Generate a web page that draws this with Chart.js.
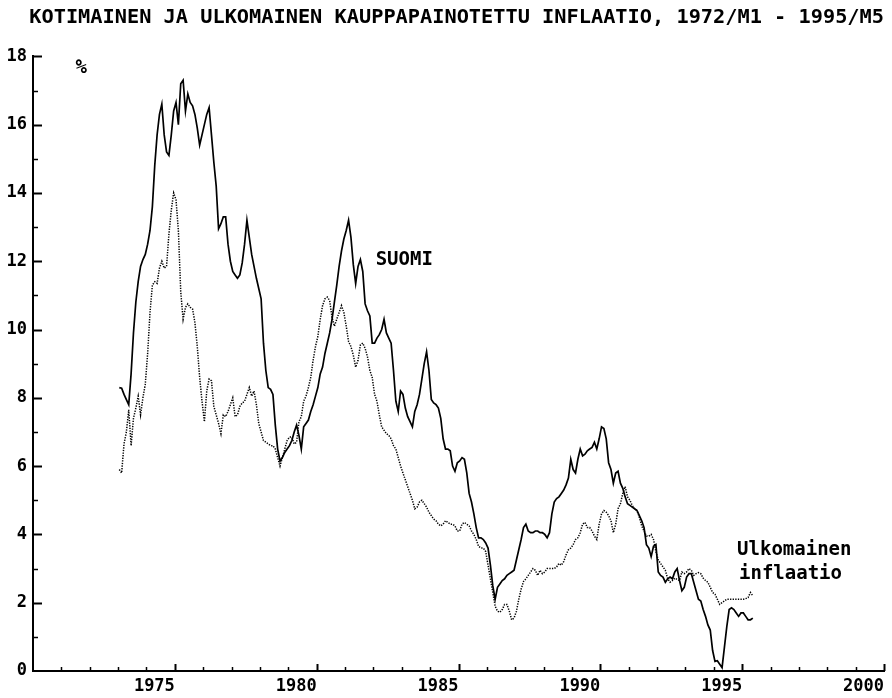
<!DOCTYPE html>
<html>
<head>
<meta charset="utf-8">
<script src="https://cdn.jsdelivr.net/npm/chart.js@4"></script>
<style>
  html, body { margin: 0; padding: 0; background: #fff; }
  #wrap { width: 892px; height: 698px; position: relative; }
</style>
</head>
<body>
<div id="wrap"><canvas id="c"></canvas></div>
<script>
// ---- data (monthly, 1973/M1 ... 1995/M5), year-on-year inflation, % ----
const titleText = 'KOTIMAINEN JA ULKOMAINEN KAUPPAPAINOTETTU INFLAATIO, 1972/M1 - 1995/M5';
const startYear = 1973;
const startMonth = 1;

const suomi = [
  8.3, 8.28, 8.1, 7.95, 7.8, 8.7, 9.9, 10.8, 11.4, 11.85, 12.05, 12.2,
  12.5, 12.9, 13.6, 14.8, 15.7, 16.3, 16.6, 15.7, 15.2, 15.1, 15.7, 16.4,
  16.65, 16.0, 17.2, 17.3, 16.4, 16.9, 16.65, 16.55, 16.3, 15.9, 15.4, 15.7,
  16.0, 16.3, 16.5, 15.7, 14.9, 14.2, 12.95, 13.1, 13.3, 13.3, 12.5, 12.0,
  11.7, 11.6, 11.5, 11.6, 11.95, 12.5, 13.2, 12.7, 12.2, 11.85, 11.5, 11.2,
  10.9, 9.6, 8.8, 8.3, 8.25, 8.1, 7.2, 6.5, 6.15, 6.25, 6.4, 6.5,
  6.6, 6.75, 7.0, 7.2, 6.9, 6.5, 7.15, 7.25, 7.35, 7.6, 7.8, 8.05,
  8.3, 8.7, 8.9, 9.3, 9.6, 9.9, 10.3, 10.8, 11.3, 11.85, 12.3, 12.65,
  12.9, 13.2, 12.7, 11.9, 11.35, 11.85, 12.05, 11.7, 10.75, 10.55, 10.4, 9.6,
  9.6, 9.75, 9.85, 10.0, 10.3, 9.9, 9.75, 9.6, 8.8, 7.9, 7.6, 8.2,
  8.1, 7.7, 7.45, 7.3, 7.15, 7.6, 7.8, 8.1, 8.55, 9.0, 9.35, 8.8,
  7.95, 7.85, 7.8, 7.7, 7.4, 6.8, 6.5, 6.5, 6.45, 6.0, 5.85, 6.1,
  6.15, 6.25, 6.2, 5.8, 5.2, 4.95, 4.6, 4.2, 3.9, 3.9, 3.85, 3.75,
  3.6, 3.1, 2.5, 2.1, 2.45, 2.55, 2.65, 2.7, 2.8, 2.85, 2.9, 2.95,
  3.25, 3.55, 3.85, 4.2, 4.3, 4.1, 4.05, 4.05, 4.1, 4.1, 4.05, 4.05,
  4.0, 3.9, 4.05, 4.6, 4.95, 5.05, 5.1, 5.2, 5.3, 5.45, 5.65, 6.2,
  5.9, 5.8, 6.2, 6.5, 6.3, 6.35, 6.45, 6.5, 6.55, 6.7, 6.5, 6.8,
  7.15, 7.1, 6.8, 6.1, 5.9, 5.5, 5.8, 5.85, 5.5, 5.35, 5.1, 4.9,
  4.85, 4.8, 4.75, 4.7, 4.55, 4.4, 4.2, 3.7, 3.6, 3.35, 3.65, 3.7,
  2.9, 2.8, 2.75, 2.6, 2.7, 2.75, 2.7, 2.9, 3.0, 2.65, 2.35, 2.45,
  2.75, 2.85, 2.85, 2.6, 2.35, 2.1, 2.05, 1.8, 1.6, 1.35, 1.2, 0.6,
  0.28, 0.3, 0.2, 0.1, 0.7, 1.3, 1.8, 1.85, 1.8, 1.7, 1.6, 1.7,
  1.7, 1.6, 1.5, 1.5, 1.55
];

const ulkomainen = [
  5.9, 5.8, 6.65, 7.0, 7.65, 6.6, 7.4, 7.7, 8.05, 7.5, 8.0, 8.4,
  9.3, 10.5, 11.3, 11.4, 11.35, 11.8, 12.0, 11.8, 11.85, 12.8, 13.5, 14.0,
  13.8, 12.9, 11.1, 10.3, 10.65, 10.75, 10.65, 10.6, 10.2, 9.5, 8.6, 7.9,
  7.3, 8.2, 8.55, 8.5, 7.75, 7.5, 7.25, 6.95, 7.5, 7.45, 7.6, 7.8,
  8.0, 7.45, 7.5, 7.75, 7.85, 7.9, 8.1, 8.3, 8.05, 8.2, 7.8, 7.25,
  7.0, 6.75, 6.7, 6.65, 6.6, 6.6, 6.5, 6.25, 6.0, 6.25, 6.5, 6.75,
  6.85, 6.85, 6.65, 6.7, 7.3, 7.45, 7.9, 8.05, 8.3, 8.6, 9.1, 9.5,
  9.8, 10.3, 10.7, 10.9, 10.95, 10.85, 10.35, 10.1, 10.3, 10.5, 10.7, 10.5,
  10.1, 9.65, 9.5, 9.25, 8.9, 9.1, 9.55, 9.6, 9.45, 9.2, 8.8, 8.6,
  8.1, 7.9, 7.5, 7.15, 7.05, 6.95, 6.9, 6.8, 6.6, 6.5, 6.25, 6.0,
  5.8, 5.6, 5.4, 5.2, 5.0, 4.75, 4.8, 4.95, 5.0, 4.9, 4.8, 4.65,
  4.55, 4.45, 4.4, 4.3, 4.25, 4.3, 4.4, 4.35, 4.3, 4.3, 4.25, 4.1,
  4.1, 4.3, 4.35, 4.3, 4.25, 4.1, 4.0, 3.85, 3.65, 3.6, 3.6, 3.5,
  3.1, 2.7, 2.3, 1.9, 1.75, 1.72, 1.8, 1.95, 1.95, 1.75, 1.5, 1.55,
  1.75, 2.1, 2.4, 2.62, 2.7, 2.8, 2.9, 3.0, 2.95, 2.8, 2.95, 2.85,
  2.9, 3.0, 3.0, 3.0, 3.0, 3.05, 3.15, 3.1, 3.2, 3.4, 3.55, 3.6,
  3.7, 3.85, 3.9, 4.05, 4.3, 4.35, 4.2, 4.2, 4.1, 3.95, 3.85, 4.3,
  4.6, 4.7, 4.65, 4.55, 4.4, 4.05, 4.3, 4.75, 4.9, 5.2, 5.4, 5.1,
  5.0, 4.85, 4.75, 4.7, 4.5, 4.25, 4.1, 3.95, 3.95, 4.0, 3.85, 3.5,
  3.25, 3.15, 3.05, 2.95, 2.7, 2.6, 2.65, 2.72, 2.68, 2.65, 2.9, 2.85,
  2.9, 3.0, 2.95, 2.8, 2.85, 2.88, 2.85, 2.72, 2.65, 2.6, 2.45, 2.3,
  2.25, 2.1, 1.95, 2.0, 2.05, 2.1, 2.1, 2.1, 2.1, 2.1, 2.1, 2.1,
  2.1, 2.12, 2.15, 2.3, 2.2
];

const xTickLabels = ['1975', '1980', '1985', '1990', '1995', '2000'];
const yTickLabels = ['0', '2', '4', '6', '8', '10', '12', '14', '16', '18'];

// text annotations placed in data space
const annotations = [
  { text: '%',          x: 1971.5, y: 17.66 },
  { text: 'SUOMI',      x: 1982.08, y: 12.03 },
  { text: 'Ulkomainen', x: 1994.82, y: 3.54 },
  { text: 'inflaatio',  x: 1994.89, y: 2.84 }
];

// ---- build points: mid-month positions on a year axis ----
function toPoints(arr) {
  return arr.map((v, i) => ({ x: startYear + (startMonth - 1 + i + 0.5) / 12, y: v }));
}

const MONO = "'DejaVu Sans Mono', 'Liberation Mono', monospace";

const innerTicks = {
  id: 'innerTicks',
  afterDraw(chart) {
    const { ctx, chartArea: a } = chart;
    const xs = chart.scales.x, ys = chart.scales.y;
    ctx.save();
    ctx.strokeStyle = '#000';
    for (let v = ys.min + 1; v <= ys.max; v++) {
      const py = Math.round(ys.getPixelForValue(v)) + 0.5;
      const major = v % 2 === 0;
      ctx.lineWidth = major ? 2 : 1.5;
      ctx.beginPath();
      ctx.moveTo(a.left, py);
      ctx.lineTo(a.left + (major ? 9 : 5), py);
      ctx.stroke();
    }
    for (let yr = xs.min + 1; yr <= xs.max; yr++) {
      const px = Math.round(xs.getPixelForValue(yr)) + 0.5;
      const major = yr % 5 === 0;
      ctx.lineWidth = major ? 2 : 1.5;
      ctx.beginPath();
      ctx.moveTo(px, a.bottom);
      ctx.lineTo(px, a.bottom - (major ? 7 : 4));
      ctx.stroke();
    }
    ctx.fillStyle = '#000';
    ctx.textAlign = 'left';
    ctx.textBaseline = 'middle';
    ctx.font = 'bold 19px ' + MONO;
    annotations.forEach(an => {
      ctx.fillText(an.text, xs.getPixelForValue(an.x), ys.getPixelForValue(an.y));
    });
    ctx.restore();
  }
};

new Chart(document.getElementById('c'), {
  type: 'line',
  data: {
    datasets: [
      {
        label: 'SUOMI',
        data: toPoints(suomi),
        borderColor: '#000',
        borderWidth: 1.7,
        pointRadius: 0,
        tension: 0,
        fill: false
      },
      {
        label: 'Ulkomainen inflaatio',
        data: toPoints(ulkomainen),
        borderColor: '#000',
        borderWidth: 1.5,
        borderDash: [1.3, 1.3],
        pointRadius: 0,
        tension: 0,
        fill: false
      }
    ]
  },
  options: {
    responsive: true,
    maintainAspectRatio: false,
    animation: false,
    devicePixelRatio: 1,
    layout: { padding: { left: 0, right: 8, top: 0, bottom: 0 } },
    plugins: {
      legend: { display: false },
      tooltip: { enabled: false },
      title: {
        display: true,
        text: titleText,
        align: 'end',
        color: '#000',
        font: { family: MONO, size: 20.3, weight: 'bold' },
        padding: { top: 6, bottom: 26 }
      }
    },
    scales: {
      x: {
        type: 'linear',
        min: 1970,
        max: 2000,
        grid: { display: false, drawTicks: false },
        border: { display: true, color: '#000', width: 2 },
        ticks: {
          stepSize: 5,
          align: 'end',
          padding: 5,
          maxRotation: 0,
          autoSkip: false,
          color: '#000',
          font: { family: MONO, size: 17, weight: 'bold' },
          callback: v => (xTickLabels.includes(String(v)) ? String(v) : '')
        },
        afterFit: s => { s.height = 27; }
      },
      y: {
        min: 0,
        max: 18,
        grid: { display: false, drawTicks: false },
        border: { display: true, color: '#000', width: 2 },
        ticks: {
          stepSize: 1,
          padding: 6,
          autoSkip: false,
          color: '#000',
          font: { family: MONO, size: 17, weight: 'bold' },
          callback: v => (yTickLabels.includes(String(v)) ? String(v) : '')
        },
        afterFit: s => { s.width = 33; }
      }
    }
  },
  plugins: [innerTicks]
});
</script>
</body>
</html>
